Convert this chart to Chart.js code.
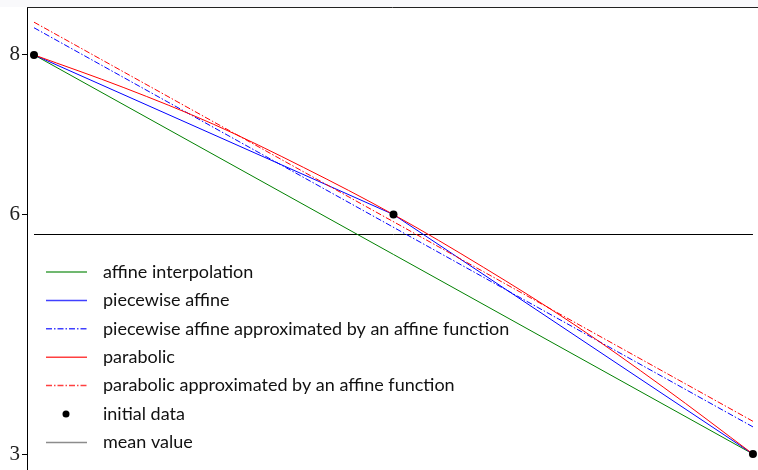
<!DOCTYPE html>
<html>
<head>
<meta charset="utf-8">
<script src="https://cdn.jsdelivr.net/npm/chart.js@4"></script>
<style>
  html, body { margin: 0; padding: 0; background: #fff; overflow: hidden; }
  canvas { display: block; }
</style>
</head>
<body>
<canvas id="graph" width="758" height="470"></canvas>
<script>
// values
const dataX = [0, 1, 2];
const initialData = [8, 6, 3];
const endX = [0, 2];
const affineInterp = [8, 3];
const piecewiseApprox = [8.34, 3.34];
const parabolicApprox = [8.41, 3.41];
const parabolicX = [0, 0.25, 0.5, 0.75, 1, 1.25, 1.5, 1.75, 2];
const parabolic = [8, 7.59, 7.13, 6.59, 6, 5.34, 4.63, 3.84, 3];
const meanValue = 5.75;
const yTicks = [3, 6, 8];

const dashDot = [6, 2, 1.5, 2];

function pts(xs, ys) {
  return xs.map((x, i) => ({ x: x, y: ys[i] }));
}

const datasets = [
  { label: "affine interpolation", data: pts(endX, affineInterp), borderColor: "#008000", order: 5 },
  { label: "piecewise affine", data: pts(dataX, initialData), borderColor: "#0000ff", order: 4 },
  { label: "piecewise affine approximated by an affine function", data: pts(endX, piecewiseApprox),
    borderColor: "#0000ff", borderDash: dashDot, order: 3 },
  { label: "parabolic", data: pts(parabolicX, parabolic), borderColor: "#ff0000",
    cubicInterpolationMode: "monotone", order: 2 },
  { label: "parabolic approximated by an affine function", data: pts(endX, parabolicApprox),
    borderColor: "#ff0000", borderDash: dashDot, order: 1 },
  { label: "initial data", data: pts(dataX, initialData), showLine: false, pointRadius: 4,
    pointBackgroundColor: "#000", pointBorderWidth: 0, order: 0, clip: false },
  { label: "mean value", data: pts(endX, [meanValue, meanValue]), borderColor: "#000", order: 6 }
];
datasets.forEach(d => {
  if (d.pointRadius === undefined) d.pointRadius = 0;
  d.borderWidth = 1;
  d.fill = false;
});

// legend drawn by hand, matplotlib style
const legendPlugin = {
  id: "mplLegend",
  afterDraw(chart) {
    const ctx = chart.ctx;
    ctx.save();
    // top frame line
    ctx.strokeStyle = "#222";
    ctx.lineWidth = 1;
    ctx.beginPath();
    ctx.moveTo(chart.chartArea.left, chart.chartArea.top + 0.5);
    ctx.lineTo(chart.chartArea.right, chart.chartArea.top + 0.5);
    ctx.stroke();

    ctx.font = "18px Lato";
    ctx.textBaseline = "middle";
    let y = 272;
    chart.data.datasets.forEach(d => {
      ctx.globalAlpha = 0.75;
      if (d.showLine === false) {
        ctx.fillStyle = "#000";
        ctx.globalAlpha = 1;
        ctx.beginPath();
        ctx.arc(66, y, 3.5, 0, Math.PI * 2);
        ctx.fill();
      } else {
        ctx.strokeStyle = d.label === "mean value" ? "#666" : d.borderColor;
        ctx.lineWidth = 1.5;
        ctx.setLineDash(d.borderDash || []);
        ctx.beginPath();
        ctx.moveTo(46, y);
        ctx.lineTo(87, y);
        ctx.stroke();
        ctx.setLineDash([]);
      }
      ctx.globalAlpha = 1;
      ctx.fillStyle = "#111";
      ctx.fillText(d.label, 103, y);
      y += 28.4;
    });
    ctx.restore();
  }
};

const topStrip = {
  id: "topStrip",
  beforeDraw(chart) {
    const ctx = chart.ctx;
    ctx.save();
    ctx.fillStyle = "#f9f9fb";
    ctx.fillRect(0, 0, chart.width, chart.chartArea.top);
    ctx.restore();
  }
};

new Chart(document.getElementById("graph"), {
  type: "line",
  data: { datasets: datasets },
  plugins: [topStrip, legendPlugin],
  options: {
    responsive: false,
    animation: false,
    layout: { autoPadding: false, padding: { top: 7, right: 0, bottom: 0, left: 0 } },
    plugins: { legend: { display: false }, tooltip: { enabled: false } },
    scales: {
      x: { type: "linear", min: -0.0195, max: 2.014, display: false },
      y: {
        min: 2.8, max: 8.6,
        afterBuildTicks: axis => { axis.ticks = yTicks.map(v => ({ value: v })); },
        afterFit: axis => {
          axis.width = 27;
          axis.paddingTop = 0;
          axis.paddingBottom = 0;
        },
        border: { display: true, color: "#000", width: 1 },
        grid: { drawOnChartArea: false, tickLength: 5, color: "#000" },
        ticks: { color: "#222", padding: 2, font: { family: "Liberation Serif", size: 21 } }
      }
    }
  }
});
</script>
</body>
</html>
